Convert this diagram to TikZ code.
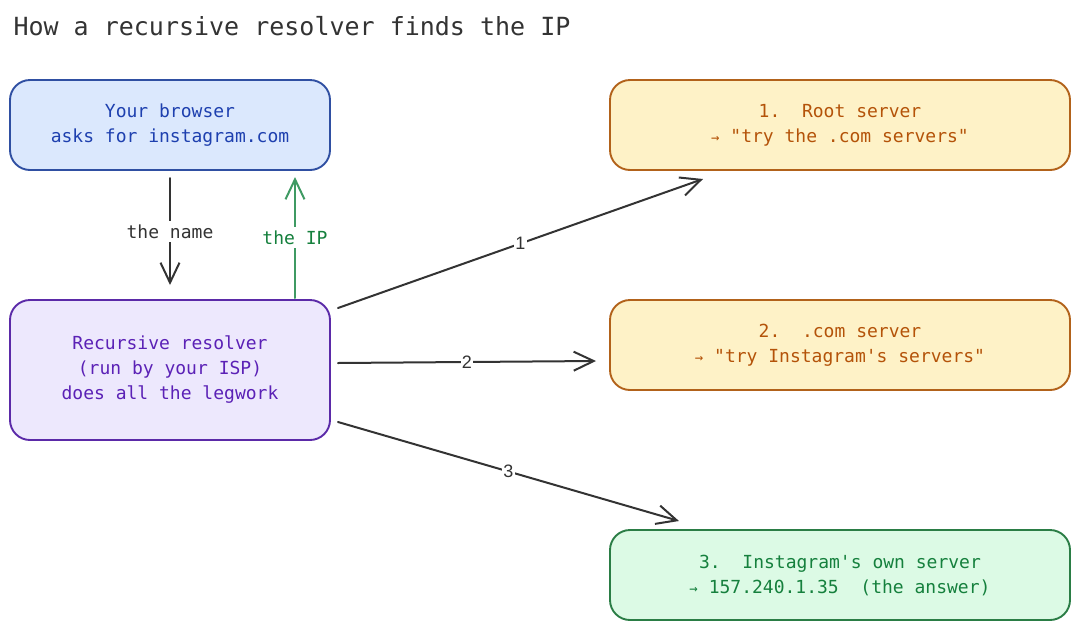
\documentclass[tikz,border=0pt]{standalone}
\usepackage{fontspec}
\setmonofont{DejaVu Sans Mono}
\setsansfont{Liberation Sans}
\usetikzlibrary{arrows.meta, positioning, calc}
\definecolor{ink}{HTML}{333333}
\definecolor{browserfill}{HTML}{DBE8FD}
\definecolor{browserline}{HTML}{2F4FA2}
\definecolor{browsertext}{HTML}{1E40AF}
\definecolor{resolverfill}{HTML}{EDE8FD}
\definecolor{resolverline}{HTML}{5B2AA8}
\definecolor{resolvertext}{HTML}{5B21B6}
\definecolor{serverfill}{HTML}{FEF2C7}
\definecolor{serverline}{HTML}{B2621A}
\definecolor{servertext}{HTML}{B45309}
\definecolor{answerfill}{HTML}{DCFAE5}
\definecolor{answerline}{HTML}{2A7D45}
\definecolor{answertext}{HTML}{15803D}
\definecolor{ipgreen}{HTML}{3F9A63}
\newcommand{\then}{{\fontsize{14}{25}\selectfont →}}

\begin{document}
\begin{tikzpicture}[
    x=1pt, y=-1pt,
    font=\ttfamily\fontsize{18}{25}\selectfont,
    block/.style={rectangle, rounded corners=20pt, line width=1.9pt, align=center, minimum width=320pt, minimum height=90pt, inner sep=0pt, outer sep=0pt},
    server/.style={block, minimum width=460pt, fill=serverfill, draw=serverline, text=servertext},
    arrow/.style={-{Straight Barb[length=20pt, width=19pt]}, line width=2pt, line cap=round, line join=round, color=ink},
    tag/.style={fill=white, inner sep=4pt},
    numtag/.style={fill=white, inner sep=1pt, text=ink, font=\sffamily\fontsize{18}{20}\selectfont}
]
    \useasboundingbox (0,0) rectangle (1080,630);

    \node [anchor=base west, font=\ttfamily\fontsize{25}{30}\selectfont, text=ink] (title) at (10,35) {How a recursive resolver finds the IP};

    \node [block, fill=browserfill, draw=browserline, text=browsertext] (browser) at (170,125) {Your browser\\asks for instagram.com};
    \node [block, minimum height=140pt, fill=resolverfill, draw=resolverline, text=resolvertext, below=130pt of browser] (resolver) {Recursive resolver\\(run by your ISP)\\does all the legwork};

    \node [server] (root) at (840,125) {1.\ \ Root server\\\then\ "try the .com servers"};
    \node [server, below=130pt of root] (dotcom) {2.\ \ .com server\\\then\ "try Instagram's servers"};
    \node [server, fill=answerfill, draw=answerline, text=answertext, below=140pt of dotcom] (insta) {3.\ \ Instagram's own server\\\then\ 157.240.1.35\ \ (the answer)};

    % browser <-> resolver
    \draw [arrow] ($(browser.south)+(0,8)$) -- node[tag, text=ink] {the name} ($(resolver.north)+(0,-15)$);
    \draw [arrow, color=ipgreen] ($(resolver.north)+(125,-2)$) -- node[tag, text=answertext] {the IP} ($(browser.south)+(125,7)$);

    % resolver asks each server in turn
    \draw [arrow] ($(resolver.north east)+(8,8)$) -- node[numtag] {1} ($(root.south west)+(93,9)$);
    \draw [arrow] ($(resolver.east)+(8,-7)$) -- node[numtag] {2} ($(dotcom.west)+(-14,16)$);
    \draw [arrow] ($(resolver.south east)+(8,-18)$) -- node[numtag] {3} ($(insta.north west)+(69,-9)$);

\end{tikzpicture}
\end{document}
